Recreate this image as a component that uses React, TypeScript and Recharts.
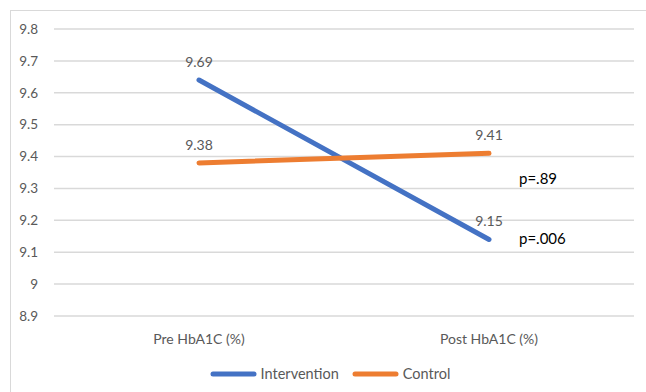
import { LineChart, Line, XAxis, YAxis, CartesianGrid, LabelList, ReferenceDot } from 'recharts';

const categories = ['Pre HbA1C (%)', 'Post HbA1C (%)'];
const interventionValues = [9.64, 9.14];
const controlValues = [9.38, 9.41];
const interventionLabels = ['9.69', '9.15'];
const controlLabels = ['9.38', '9.41'];
const yTicks = [8.9, 9.0, 9.1, 9.2, 9.3, 9.4, 9.5, 9.6, 9.7, 9.8];
const pNotes = [
  { text: 'p=.89', y: 9.33 },
  { text: 'p=.006', y: 9.14 },
];

const data = categories.map((c, i) => ({
  name: c,
  intervention: interventionValues[i],
  control: controlValues[i],
}));

const FONT = 'Lato, "Open Sans", sans-serif';
const GREY = '#595959';

const makeLabel = (labels: string[]) => (props: any) => {
  const { x, y, index } = props;
  return (
    <text x={x} y={y - 13} textAnchor="middle" fill={GREY} fontSize={14} fontFamily={FONT}>
      {labels[index]}
    </text>
  );
};

const NoteLabel = (text: string) => (props: any) => {
  const { viewBox } = props;
  return (
    <text x={viewBox.x + 30} y={viewBox.y + 5} fill="#000" fontSize={15} fontFamily={FONT}>
      {text}
    </text>
  );
};

const legendItems = [
  { name: 'Intervention', color: '#4472C4' },
  { name: 'Control', color: '#ED7D31' },
];

const LegendBox = () => (
  <div style={{ position: 'absolute', left: 0, top: 365, width: 646, display: 'flex', justifyContent: 'center', paddingLeft: 14, boxSizing: 'border-box', gap: 13, fontFamily: FONT, fontSize: 14.5, color: GREY }}>
    {legendItems.map((it) => (
      <div key={it.name} style={{ display: 'flex', alignItems: 'center', gap: 4 }}>
        <svg width={47} height={8}>
          <line x1={3} y1={4} x2={44} y2={4} stroke={it.color} strokeWidth={5} strokeLinecap="round" />
        </svg>
        <span>{it.name}</span>
      </div>
    ))}
  </div>
);

export default function App() {
  return (
    <div style={{ position: 'absolute', left: 0, top: 0, width: 646, height: 392, background: '#fff', overflow: 'hidden' }}>
      <div style={{ position: 'absolute', left: 10, top: 10, width: 700, height: 500, borderTop: '1px solid #d9d9d9', borderLeft: '1px solid #d9d9d9' }} />
      <LineChart width={646} height={392} data={data} margin={{ top: 29, right: 12, bottom: 46, left: 0 }}>
        <CartesianGrid horizontal vertical={false} stroke="#d9d9d9" strokeWidth={1.5} />
        <XAxis
          dataKey="name"
          height={30}
          axisLine={false}
          tickLine={false}
          tickMargin={12}
          padding={{ left: 145, right: 145 }}
          tick={{ fill: GREY, fontSize: 14, fontFamily: FONT }}
        />
        <YAxis
          width={54}
          domain={[8.9, 9.8]}
          ticks={yTicks}
          axisLine={false}
          tickLine={false}
          tickMargin={10}
          tickFormatter={(v: number) => String(Math.round(v * 10) / 10)}
          tick={{ fill: GREY, fontSize: 13.5, fontFamily: FONT }}
        />
        <Line
          type="linear"
          dataKey="intervention"
          name="Intervention"
          stroke="#4472C4"
          strokeWidth={5}
          strokeLinecap="round"
          dot={false}
          isAnimationActive={false}
        >
          <LabelList dataKey="intervention" content={makeLabel(interventionLabels)} />
        </Line>
        <Line
          type="linear"
          dataKey="control"
          name="Control"
          stroke="#ED7D31"
          strokeWidth={5}
          strokeLinecap="round"
          dot={false}
          isAnimationActive={false}
        >
          <LabelList dataKey="control" content={makeLabel(controlLabels)} />
        </Line>
        {pNotes.map((n) => (
          <ReferenceDot
            key={n.text}
            x={categories[1]}
            y={n.y}
            r={0}
            fill="none"
            stroke="none"
            ifOverflow="visible"
            label={NoteLabel(n.text)}
          />
        ))}
      </LineChart>
      <LegendBox />
    </div>
  );
}
